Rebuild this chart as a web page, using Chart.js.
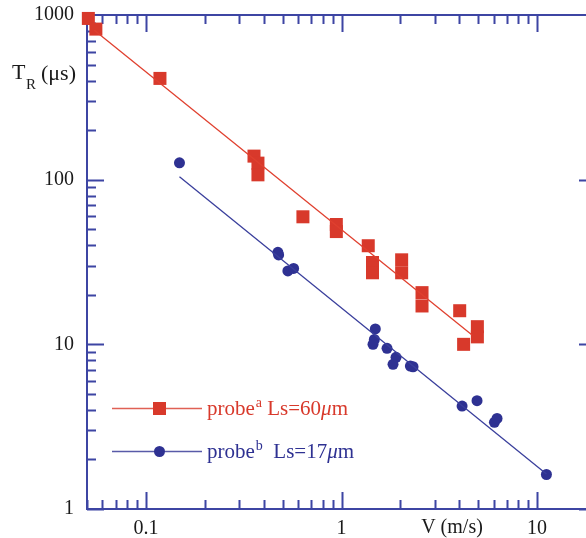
<!DOCTYPE html>
<html>
<head>
  <title>TR vs V</title>
  <style>
    body {
      margin: 0;
      padding: 0;
      background-color: white;
      overflow: hidden;
    }
  </style>
</head>
<body>
  <canvas id="chart" width="610" height="538"></canvas>

  <script src="https://cdn.jsdelivr.net/npm/chart.js"></script>
  <script>
    // probe a (Ls = 60um), red squares
    const speedA = [0.0508, 0.0555, 0.118, 0.357, 0.374, 0.374, 0.635, 0.941, 0.941, 1.37, 1.44, 1.44, 1.44,
                    2.03, 2.03, 2.58, 2.58, 4.02, 4.21, 4.95, 4.95];
    const timeA = [953, 821, 412, 139, 126, 107, 59.5, 53.4, 48.4, 39.7, 31.4, 29.1, 27.2,
                   32.6, 27.2, 20.6, 17.1, 16.0, 10.0, 12.8, 11.1];
    // probe b (Ls = 17um), blue circles
    const speedB = [0.1485, 0.473, 0.477, 0.532, 0.569, 1.489, 1.472, 1.449, 1.709, 1.90, 1.834,
                    2.249, 2.321, 4.135, 4.93, 6.05, 6.24, 11.16];
    const timeB = [126.6, 36.2, 34.9, 27.9, 28.9, 12.4, 10.7, 10.0, 9.46, 8.34, 7.56,
                   7.38, 7.31, 4.22, 4.55, 3.36, 3.55, 1.62];
    // fitted power-law lines (end points)
    const fitSpeedA = [0.0545, 4.65];
    const fitTimeA = [809, 11.4];
    const fitSpeedB = [0.1485, 11.16];
    const fitTimeB = [104.1, 1.63];

    const xTickLabels = ["0.1", "1", "10"];
    const yTickLabels = ["1", "10", "100", "1000"];

    const RED = "#d8392b";
    const BLUE = "#2e3192";
    const AXIS = "#3d45a3";
    const SERIF = "'Liberation Serif', 'DejaVu Serif', serif";

    function toPoints(xs, ys) {
      return xs.map((x, i) => ({ x: x, y: ys[i] }));
    }

    function minorTicks(min, max) {
      const out = [];
      for (let d = Math.pow(10, Math.floor(Math.log10(min))); d < max; d *= 10) {
        for (let m = 1; m < 10; m++) {
          const v = m * d;
          if (v >= min * 0.999 && v <= max * 1.001) out.push({ v: v, major: m === 1 });
        }
      }
      return out;
    }

    // draws frame, inward ticks on all four sides
    const framePlugin = {
      id: "frame",
      beforeDatasetsDraw(chart) {
        const ctx = chart.ctx;
        const a = chart.chartArea;
        const xs = chart.scales.x;
        const ys = chart.scales.y;
        ctx.save();
        ctx.strokeStyle = AXIS;
        ctx.lineWidth = 2;
        ctx.strokeRect(a.left, a.top, a.right - a.left, a.bottom - a.top);
        ctx.beginPath();
        minorTicks(xs.min, xs.max).forEach(t => {
          const px = Math.round(xs.getPixelForValue(t.v)) + 0.5;
          const len = t.major ? 17 : 9;
          ctx.moveTo(px, a.bottom);
          ctx.lineTo(px, a.bottom - len);
          ctx.moveTo(px, a.top);
          ctx.lineTo(px, a.top + len);
        });
        minorTicks(ys.min, ys.max).forEach(t => {
          const py = Math.round(ys.getPixelForValue(t.v)) + 0.5;
          const len = t.major ? 17 : 9;
          ctx.moveTo(a.left, py);
          ctx.lineTo(a.left + len, py);
          ctx.moveTo(a.right, py);
          ctx.lineTo(a.right - len, py);
        });
        ctx.stroke();
        ctx.restore();
      },
      afterDraw(chart) {
        const ctx = chart.ctx;
        const a = chart.chartArea;
        const xs = chart.scales.x;
        const ys = chart.scales.y;
        ctx.save();
        ctx.fillStyle = "#1a1a1a";
        ctx.font = "20px " + SERIF;
        ctx.textBaseline = "middle";
        ctx.textAlign = "center";
        xTickLabels.forEach(l => {
          ctx.fillText(l, xs.getPixelForValue(parseFloat(l)), a.bottom + 20);
        });
        ctx.fillText("V (m/s)", 452, a.bottom + 19);
        ctx.textAlign = "right";
        yTickLabels.forEach(l => {
          ctx.fillText(l, a.left - 13, ys.getPixelForValue(parseFloat(l)));
        });

        // y axis title
        ctx.textAlign = "left";
        ctx.textBaseline = "alphabetic";
        ctx.font = "22px " + SERIF;
        ctx.fillText("T", 12, 79);
        ctx.font = "15px " + SERIF;
        ctx.fillText("R", 26, 89);
        ctx.font = "22px " + SERIF;
        ctx.fillText("(\u03bcs)", 41, 80);

        // legend
        drawLegendRow(ctx, 408, RED, "rect", "a", " Ls=60", "m");
        drawLegendRow(ctx, 451, BLUE, "circle", "b", "  Ls=17", "m");
        ctx.restore();
      }
    };

    function drawLegendRow(ctx, y, color, style, sup, mid, unit) {
      ctx.strokeStyle = color;
      ctx.globalAlpha = 0.8;
      ctx.lineWidth = 1.5;
      ctx.beginPath();
      ctx.moveTo(112, y + 0.5);
      ctx.lineTo(202, y + 0.5);
      ctx.stroke();
      ctx.globalAlpha = 1;
      ctx.fillStyle = color;
      if (style === "rect") {
        ctx.fillRect(153, y - 6, 13, 13);
      } else {
        ctx.beginPath();
        ctx.arc(159.5, y + 0.5, 5.5, 0, Math.PI * 2);
        ctx.fill();
      }
      let x = 207;
      const base = y + 7;
      ctx.font = "21px " + SERIF;
      ctx.fillText("probe", x, base);
      x += ctx.measureText("probe").width;
      ctx.font = "14px " + SERIF;
      ctx.fillText(sup, x + 1, base - 8);
      x += ctx.measureText(sup).width + 1;
      ctx.font = "21px " + SERIF;
      ctx.fillText(mid, x, base);
      x += ctx.measureText(mid).width;
      ctx.font = "italic 21px " + SERIF;
      ctx.fillText("\u03bc", x, base);
      x += ctx.measureText("\u03bc").width;
      ctx.font = "21px " + SERIF;
      ctx.fillText(unit, x, base);
    }

    new Chart(document.getElementById("chart"), {
      type: "scatter",
      data: {
        datasets: [
          {
            label: "fit a",
            data: toPoints(fitSpeedA, fitTimeA),
            showLine: true,
            borderColor: "#e0402f",
            borderWidth: 1.3,
            pointRadius: 0,
            clip: false,
          },
          {
            label: "fit b",
            data: toPoints(fitSpeedB, fitTimeB),
            showLine: true,
            borderColor: "#3a3f9c",
            borderWidth: 1.3,
            pointRadius: 0,
            clip: false,
          },
          {
            label: "probe a Ls=60um",
            data: toPoints(speedA, timeA),
            pointStyle: "rect",
            pointRadius: 9.2,
            backgroundColor: RED,
            borderWidth: 0,
            clip: false,
          },
          {
            label: "probe b Ls=17um",
            data: toPoints(speedB, timeB),
            pointStyle: "circle",
            pointRadius: 5.5,
            backgroundColor: BLUE,
            borderWidth: 0,
            clip: false,
          },
        ],
      },
      options: {
        responsive: false,
        animation: false,
        layout: {
          padding: { left: 87, right: 14, top: 15, bottom: 29 },
        },
        plugins: {
          legend: { display: false },
          tooltip: { enabled: false },
        },
        scales: {
          x: { type: "logarithmic", min: 0.05, max: 20, display: false },
          y: { type: "logarithmic", min: 1, max: 1000, display: false },
        },
      },
      plugins: [framePlugin],
    });
  </script>
</body>
</html>
